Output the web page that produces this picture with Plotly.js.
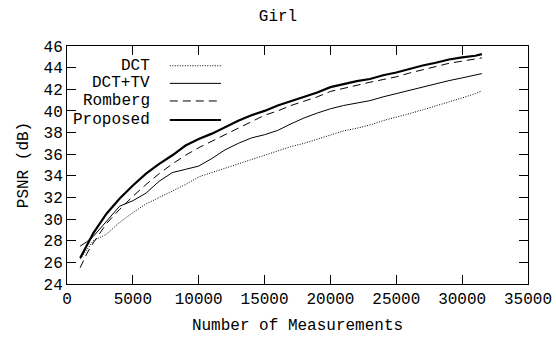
<!DOCTYPE html>
<html>
<head>
<meta charset="utf-8">
<script src="https://cdn.plot.ly/plotly-3.0.1.min.js"></script>
<style>html,body{margin:0;padding:0;background:#fff;}#chart{width:556px;height:341px;}</style>
</head>
<body>
<div id="chart"></div>
<script>
const measurements = [1000, 1500, 2000, 3000, 4000, 5000, 6000, 7000, 8000, 9000, 10000, 11000, 12000, 13000, 14000, 15000, 16000, 17000, 18000, 19000, 20000, 21000, 22000, 23000, 24000, 25000, 26000, 27000, 28000, 29000, 30000, 31000, 31500];
const psnrDCT = [26.3, 27.2, 28.0, 28.6, 29.7, 30.6, 31.4, 32.0, 32.6, 33.2, 33.9, 34.3, 34.7, 35.1, 35.5, 35.9, 36.3, 36.7, 37.0, 37.4, 37.8, 38.15, 38.4, 38.7, 39.1, 39.4, 39.75, 40.1, 40.45, 40.85, 41.2, 41.6, 41.85];
const psnrDCTTV = [27.5, 27.9, 28.4, 29.8, 31.2, 31.7, 32.4, 33.5, 34.3, 34.6, 34.9, 35.6, 36.4, 37.0, 37.5, 37.8, 38.2, 38.8, 39.35, 39.8, 40.2, 40.5, 40.7, 40.95, 41.3, 41.6, 41.95, 42.25, 42.5, 42.8, 43.05, 43.3, 43.45];
const psnrRomberg = [25.5, 26.8, 27.8, 29.6, 30.9, 32.1, 33.2, 34.2, 35.1, 35.9, 36.6, 37.2, 37.8, 38.4, 38.95, 39.6, 40.0, 40.5, 40.9, 41.3, 41.8, 42.1, 42.35, 42.65, 42.9, 43.15, 43.5, 43.8, 44.1, 44.4, 44.6, 44.8, 44.9];
const psnrProposed = [26.4, 27.5, 28.7, 30.5, 31.9, 33.1, 34.2, 35.1, 35.9, 36.8, 37.4, 37.9, 38.5, 39.1, 39.6, 40.0, 40.5, 40.9, 41.3, 41.7, 42.2, 42.5, 42.75, 42.95, 43.3, 43.55, 43.9, 44.2, 44.45, 44.75, 44.95, 45.1, 45.25];
const seriesNames = ["DCT", "DCT+TV", "Romberg", "Proposed"];
const xTickVals = [0, 5000, 10000, 15000, 20000, 25000, 30000, 35000];
const yTickVals = [24, 26, 28, 30, 32, 34, 36, 38, 40, 42, 44, 46];

const FONT = "Liberation Mono, DejaVu Sans Mono, monospace";
const styles = [
  {color: "#000", width: 1, dash: "1px,1.5px"},
  {color: "#000", width: 1, dash: "solid"},
  {color: "#000", width: 1, dash: "8px,5px"},
  {color: "#000", width: 2.2, dash: "solid"}
];
const ys = [psnrDCT, psnrDCTTV, psnrRomberg, psnrProposed];
const traces = ys.map((y, i) => ({
  x: measurements, y: y, type: "scatter", mode: "lines",
  name: seriesNames[i], line: styles[i], showlegend: false
}));

const legendY = [0.917, 0.843, 0.769, 0.689];
const annotations = seriesNames.map((n, i) => ({
  xref: "paper", yref: "paper", x: 0.185, y: legendY[i],
  xanchor: "right", yanchor: "middle", text: n, showarrow: false,
  font: {family: FONT, size: 16, color: "#000"}
}));
const shapes = seriesNames.map((n, i) => ({
  type: "line", xref: "paper", yref: "paper",
  x0: 0.223, x1: 0.334, y0: legendY[i], y1: legendY[i],
  line: styles[i]
}));

const axisCommon = {
  showgrid: false, zeroline: false, showline: true, linecolor: "#000", linewidth: 1,
  mirror: "ticks", ticks: "inside", ticklen: 9, tickcolor: "#000", tickwidth: 1,
  tickfont: {family: FONT, size: 16, color: "#000"}
};

const layout = {
  width: 556, height: 341,
  margin: {l: 67, r: 28, t: 46, b: 57},
  paper_bgcolor: "#fff", plot_bgcolor: "#fff",
  title: {text: "Girl", x: 0.5, xref: "container", y: 0.955, yanchor: "middle",
          font: {family: FONT, size: 16, color: "#000"}},
  xaxis: Object.assign({}, axisCommon, {
    range: [0, 35000], tickvals: xTickVals, ticktext: xTickVals.map(String),
    title: {text: "Number of Measurements", standoff: 10, font: {family: FONT, size: 16, color: "#000"}}
  }),
  yaxis: Object.assign({}, axisCommon, {
    range: [24, 46], tickvals: yTickVals, ticktext: yTickVals.map(String),
    title: {text: "PSNR (dB)", standoff: 10, font: {family: FONT, size: 16, color: "#000"}}
  }),
  annotations: annotations,
  shapes: shapes,
  showlegend: false
};

Plotly.newPlot("chart", traces, layout, {staticPlot: true, displayModeBar: false});
</script>
</body>
</html>
